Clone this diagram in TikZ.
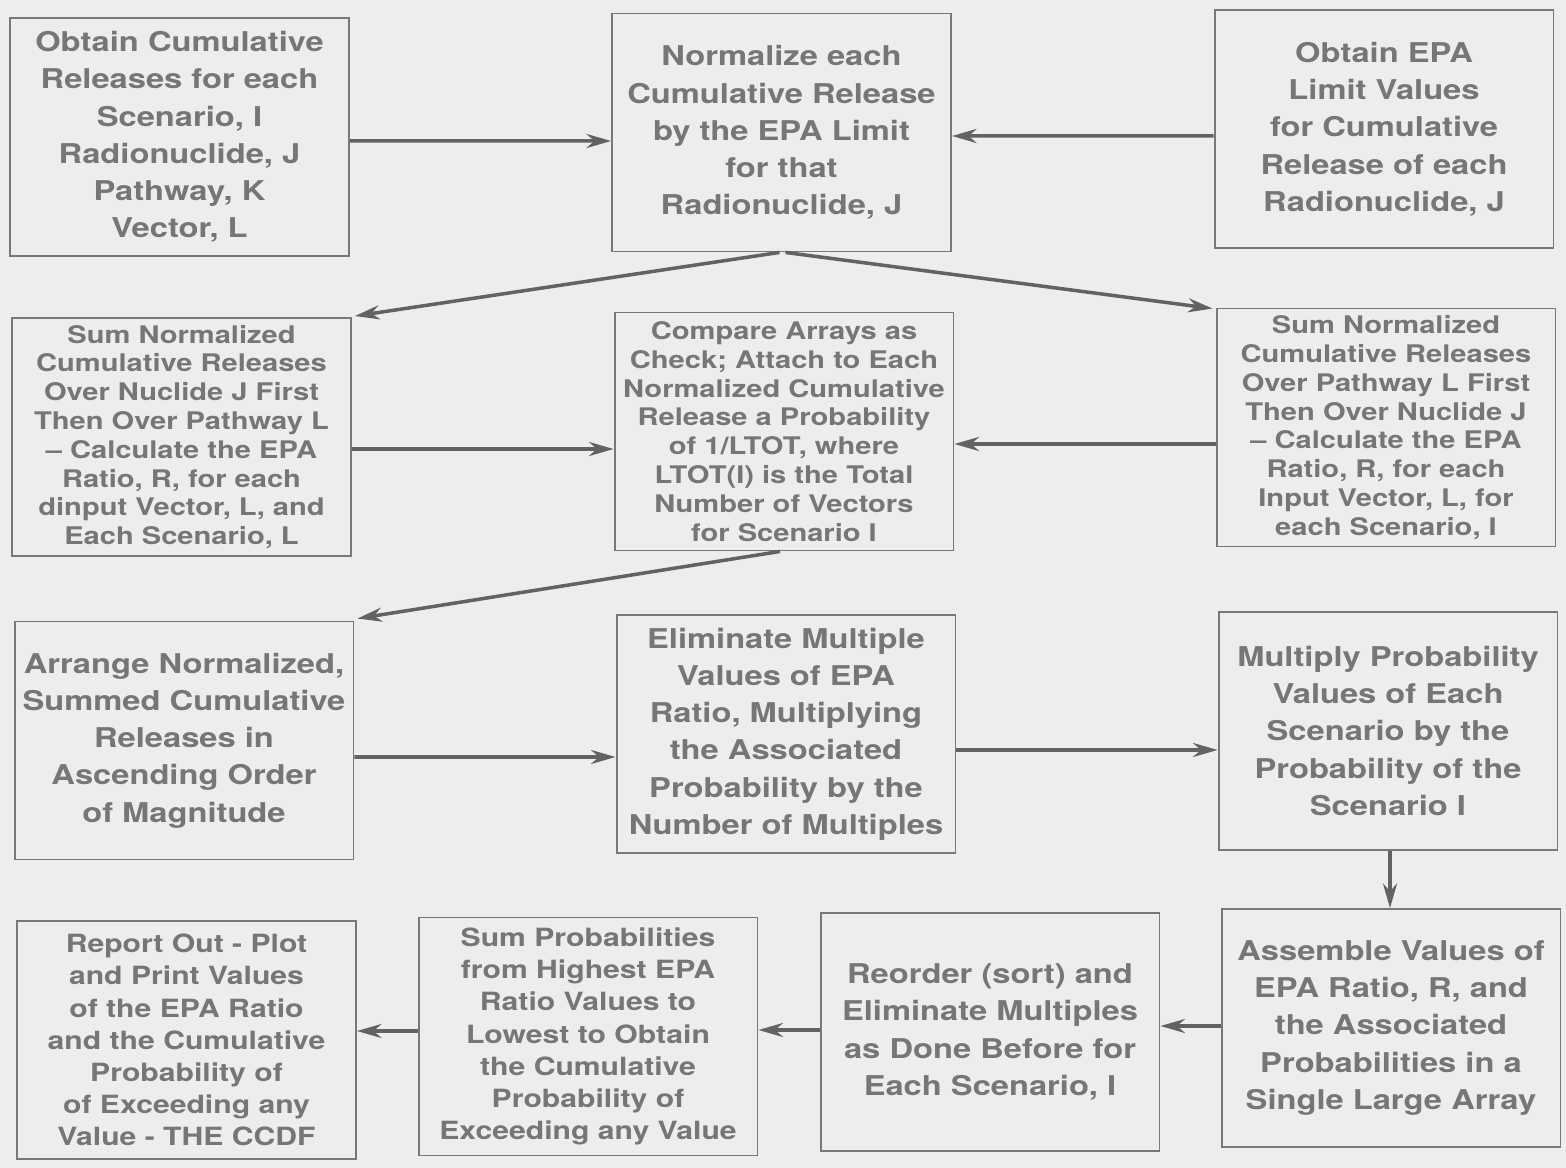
\documentclass[tikz,border=0pt]{standalone}
\usepackage{fontspec}
\setmainfont{TeX Gyre Heros}[FakeStretch=1.2]
\usetikzlibrary{arrows.meta,calc}
\definecolor{paper}{RGB}{237,237,235}
\definecolor{ink}{RGB}{118,118,116}
\definecolor{rule}{RGB}{120,120,118}
\definecolor{arrowink}{RGB}{98,98,96}
\begin{document}
\begin{tikzpicture}[x=0.02cm,y=-0.02cm,
  box/.style={draw=rule, line width=1.1pt, minimum width=6.78cm, minimum height=4.76cm,
    inner sep=0pt, align=center, text=ink},
  bigtxt/.style={font=\fontsize{15.5}{21.2}\selectfont\bfseries},
  midtxt/.style={font=\fontsize{14.3}{18.3}\selectfont\bfseries},
  smalltxt/.style={font=\fontsize{13.8}{16.4}\selectfont\bfseries},
  arr/.style={draw=arrowink, line width=2pt, -{Stealth[length=14pt,width=8pt]}}]
\fill[paper] (0,0) rectangle (1566,1168);
\useasboundingbox (0,0) rectangle (1566,1168);

% first row
\node[box,bigtxt] (A) at (179.5,137) {Obtain Cumulative\\Releases for each\\Scenario, I\\Radionuclide, J\\Pathway, K\\Vector, L};
\node[box,bigtxt] (B) at (781.5,132.5) {Normalize each\\Cumulative Release\\by the EPA Limit\\for that\\Radionuclide, J};
\node[box,bigtxt] (C) at (1384,129) {Obtain EPA\\Limit Values\\for Cumulative\\Release of each\\Radionuclide, J};

% second row
\node[box,smalltxt] (D) at (181.5,437) {Sum Normalized\\Cumulative Releases\\Over Nuclide J First\\Then Over Pathway L\\-- Calculate the EPA\\Ratio, R, for each\\dinput Vector, L, and\\Each Scenario, L};
\node[box,smalltxt] (E) at (784,431.5) {Compare Arrays as\\Check; Attach to Each\\Normalized Cumulative\\Release a Probability\\of 1/LTOT, where\\LTOT(I) is the Total\\Number of Vectors\\for Scenario I};
\node[box,smalltxt] (F) at (1386,427.5) {Sum Normalized\\Cumulative Releases\\Over Pathway L First\\Then Over Nuclide J\\-- Calculate the EPA\\Ratio, R, for each\\Input Vector, L, for\\each Scenario, I};

% third row
\node[box,bigtxt] (G) at (184,740.5) {Arrange Normalized,\\Summed Cumulative\\Releases in\\Ascending Order\\of Magnitude};
\node[box,bigtxt] (H) at (786,734) {Eliminate Multiple\\Values of EPA\\Ratio, Multiplying\\the Associated\\Probability by the\\Number of Multiples};
\node[box,bigtxt] (I) at (1388,731) {Multiply Probability\\Values of Each\\Scenario by the\\Probability of the\\Scenario I};

% fourth row
\node[box,midtxt] (J) at (186.5,1040) {Report Out - Plot\\and Print Values\\of the EPA Ratio\\and the Cumulative\\Probability of\\of Exceeding any\\Value - THE CCDF};
\node[box,midtxt] (K) at (588,1036.5) {Sum Probabilities\\from Highest EPA\\Ratio Values to\\Lowest to Obtain\\the Cumulative\\Probability of\\Exceeding any Value};
\node[box,bigtxt] (L) at (990,1032) {Reorder (sort) and\\Eliminate Multiples\\as Done Before for\\Each Scenario, I};
\node[box,bigtxt] (M) at (1391,1028) {Assemble Values of\\EPA Ratio, R, and\\the Associated\\Probabilities in a\\Single Large Array};

% connectors
\draw[arr] ($(A.east)+(0,4)$) -- ($(B.west)+(0,8.5)$);
\draw[arr] ($(C.west)+(0,7)$) -- ($(B.east)+(0,3.5)$);
\draw[arr] ($(B.south)+(-2,0)$) -- ($(D.north east)+(3,-1)$);
\draw[arr] ($(B.south)+(4,0)$) -- ($(F.north west)+(-3,1)$);
\draw[arr] ($(D.east)+(0,12)$) -- ($(E.west)+(0,17.5)$);
\draw[arr] ($(F.west)+(0,16.5)$) -- ($(E.east)+(0,12.5)$);
\draw[arr] ($(E.south)+(-4,0)$) -- ($(G.north east)+(3,-2)$);
\draw[arr] ($(G.east)+(0,16.5)$) -- ($(H.west)+(0,23)$);
\draw[arr] ($(H.east)+(0,16)$) -- ($(I.west)+(0,19)$);
\draw[arr] ($(I.south)+(2,0)$) -- ($(M.north)+(-1,0)$);
\draw[arr] ($(M.west)+(0,-2)$) -- ($(L.east)+(0,-6)$);
\draw[arr] ($(L.west)+(0,-2)$) -- ($(K.east)+(0,-6.5)$);
\draw[arr] ($(K.west)+(0,-5.5)$) -- ($(J.east)+(0,-9)$);
\end{tikzpicture}
\end{document}
